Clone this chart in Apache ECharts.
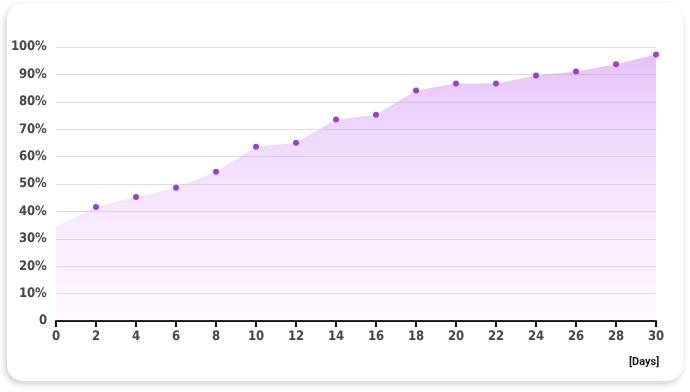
<!DOCTYPE html>
<html>
<head>
<meta charset="utf-8">
<script src="https://cdn.jsdelivr.net/npm/echarts@6/dist/echarts.min.js"></script>
<style>
@font-face{font-family:'CondLbl';src:local('DejaVu Sans Condensed Bold'),local('DejaVuSansCondensed-Bold');font-weight:normal;}
html,body{margin:0;padding:0;background:#fff;width:690px;height:392px;overflow:hidden;}
#card{position:absolute;left:7px;top:3px;width:676px;height:378px;border-radius:16px;background:#fff;
box-shadow:-2px 3px 7px rgba(0,0,0,0.2);}
#chart{position:absolute;left:0;top:0;width:690px;height:392px;}
#probe{font-family:'CondLbl';position:absolute;left:-100px;}
</style>
</head>
<body>
<div id="card"></div>
<div id="chart"></div>
<span id="probe">0</span>
<script>
const days = [0,2,4,6,8,10,12,14,16,18,20,22,24,26,28,30];
const values = [34.5,41.6,45.3,48.6,54.5,63.6,65.1,73.5,75.3,84.1,86.7,86.7,89.6,91.1,93.7,97.3];
const yTicks = [0,10,20,30,40,50,60,70,80,90,100];
const xLabel = '[Days]';

function draw(){
const chart = echarts.init(document.getElementById('chart'), null, {renderer:'canvas'});
const labelFont = {color:'#474747', fontFamily:'CondLbl, DejaVu Sans', fontWeight:'normal', fontSize:13};
chart.setOption({
  animation:false,
  grid:{left:56, right:34, top:47, bottom:71, containLabel:false},
  xAxis:{
    type:'value', min:0, max:30, interval:2,
    axisLine:{show:true, onZero:false, lineStyle:{color:'#111', width:2}},
    axisTick:{show:true, length:6, lineStyle:{color:'#111', width:2}},
    axisLabel:Object.assign({margin:9}, labelFont),
    splitLine:{show:false}
  },
  yAxis:{
    type:'value', min:0, max:100, interval:10,
    axisLine:{show:false}, axisTick:{show:false},
    axisLabel:Object.assign({margin:9, formatter:v => yTicks.includes(v) ? (v===0 ? '0' : v+'%') : ''}, labelFont),
    splitLine:{show:true, lineStyle:{color:'#dcdcdc', width:1}}
  },
  series:[{
    type:'line',
    data: days.map((d,i)=> i===0 ? {value:[d,values[i]], symbol:'none'} : [d,values[i]]),
    symbol:'circle', symbolSize:6,
    itemStyle:{color:'#9b40d6'},
    lineStyle:{width:0},
    areaStyle:{
      color:new echarts.graphic.LinearGradient(0,0,0,1,[
        {offset:0, color:'rgba(206,140,245,0.75)'},
        {offset:1, color:'rgba(235,205,250,0.2)'}
      ])
    },
    z:3
  }],
  graphic:[{
    type:'text', left:629, top:357,
    style:{text:xLabel, font:'bold 11px Roboto', fill:'#222'}
  }]
});
}
if (document.fonts && document.fonts.load) {
  document.fonts.load('13px CondLbl').then(draw, draw);
} else { draw(); }
</script>
</body>
</html>
